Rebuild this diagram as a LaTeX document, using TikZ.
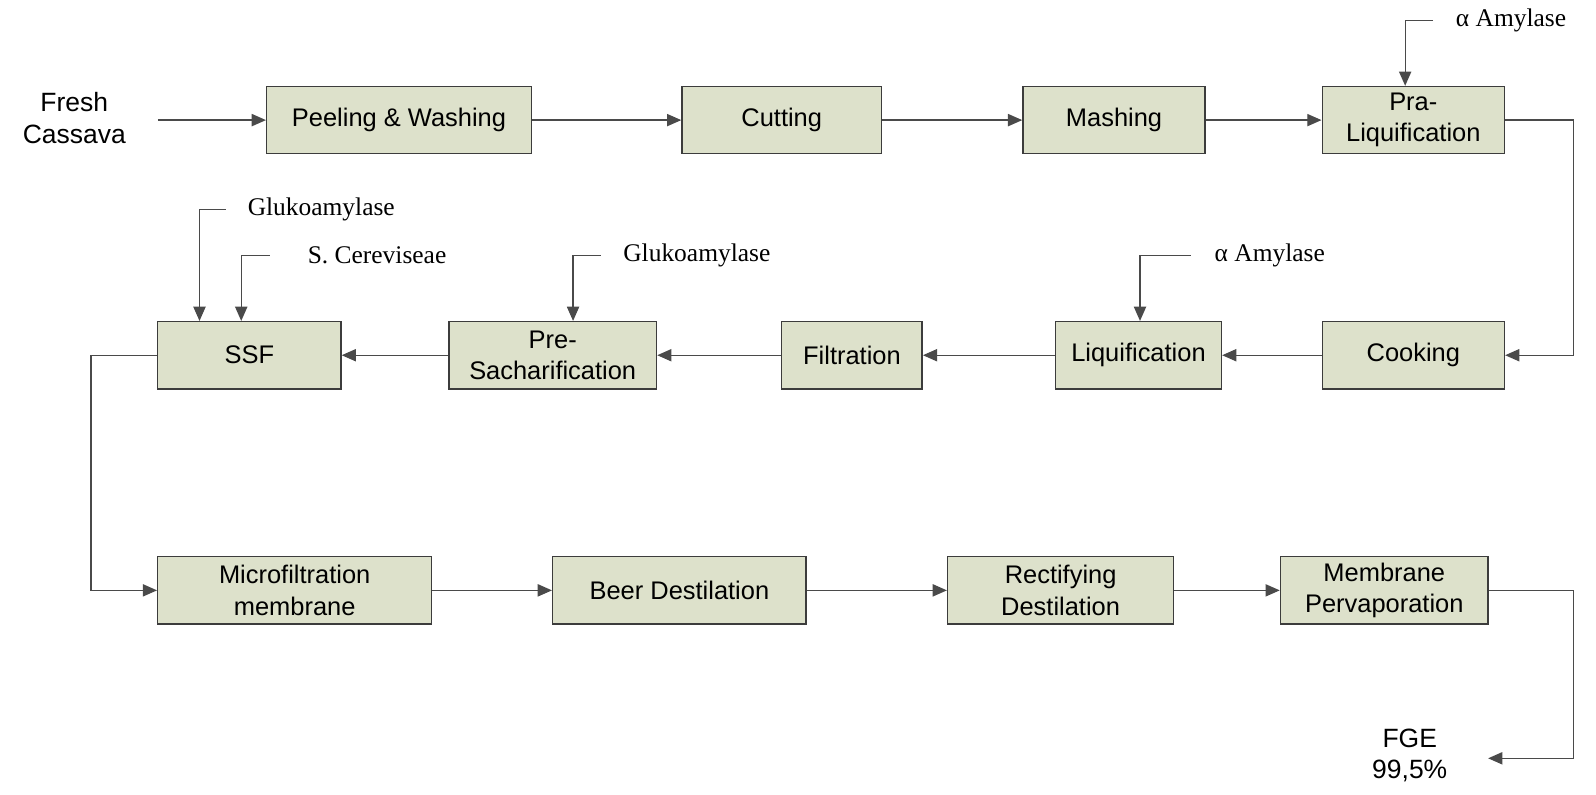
\documentclass[tikz,border=0pt]{standalone}
\usepackage{fontspec}
\setmainfont{Liberation Serif}
\setsansfont{Liberation Sans}
\usepackage{xcolor}
\usepackage{tikz}
\usetikzlibrary{arrows.meta}
\definecolor{boxfill}{HTML}{DDE1CB}
\definecolor{boxline}{HTML}{3C3C3C}
\definecolor{wire}{HTML}{4A4A4A}
\tikzset{
  proc/.style={draw=boxline, fill=boxfill, line width=0.7pt, minimum height=33pt,
    align=center, font=\sffamily\fontsize{12.5}{15.5}\selectfont, inner sep=2pt},
  flow/.style={draw=wire, line width=0.65pt, -{Triangle[length=7pt,width=6pt]}},
  feed/.style={draw=wire, line width=0.65pt, -{Triangle[length=7pt,width=6pt]}},
  enz/.style={anchor=west, inner sep=0pt, font=\rmfamily\fontsize{12.5}{15}\selectfont},
  term/.style={align=center, inner sep=0pt, font=\sffamily\fontsize{13}{15.5}\selectfont},
}

\begin{document}
\begin{tikzpicture}[x=0.5pt,y=-0.5pt]
  \useasboundingbox (0,0) rectangle (1568,781);
  % row 1
  \node[term] (fresh) at (73,116) {Fresh\\Cassava};
  \coordinate (feedin) at (155,118);
  \node[proc, minimum width=130pt] (peel) at (392,118) {Peeling \& Washing};
  \node[proc, minimum width=98pt] (cut) at (768,118) {Cutting};
  \node[proc, minimum width=89.5pt] (mash) at (1094.5,118) {Mashing};
  \node[proc, minimum width=89.5pt] (praliq) at (1388.5,118) {Pra-\\Liquification};
  % row 2
  \node[proc, minimum width=89.5pt] (cook) at (1388.5,349) {Cooking};
  \node[proc, minimum width=81.5pt] (liq) at (1118.5,349) {Liquification};
  \node[proc, minimum width=69pt] (filt) at (837,349) {Filtration};
  \node[proc, minimum width=102pt] (presac) at (543,349) {Pre-\\Sacharification};
  \node[proc, minimum width=90pt] (ssf) at (245,349) {SSF};
  % row 3
  \node[proc, minimum width=134.5pt] (micro) at (289.5,580) {Microfiltration\\membrane};
  \node[proc, minimum width=124.5pt] (beer) at (667.5,580) {Beer Destilation};
  \node[proc, minimum width=111pt] (rect) at (1042,580) {Rectifying\\Destilation};
  \node[proc, minimum width=102pt] (perv) at (1360,580) {Membrane\\Pervaporation};
  \node[term] (fge) at (1385,742) {FGE\\99,5\%};
  \coordinate (fgein) at (1462,745);
  % added enzymes and yeast
  \node[enz] (amy1) at (1430,20) {α Amylase};
  \node[enz] (amy2) at (1193,251) {α Amylase};
  \node[enz] (gluko1) at (612,251) {Glukoamylase};
  \node[enz] (gluko2) at (243,206) {Glukoamylase};
  \node[enz] (yeast) at (302,251) {S. Cereviseae};

  \draw[flow] (feedin) -- (peel);
  \draw[flow] (peel) -- (cut);
  \draw[flow] (cut) -- (mash);
  \draw[flow] (mash) -- (praliq);
  \draw[flow] (praliq.east) -- ++(67,0) |- (cook.east);
  \draw[flow] (cook) -- (liq);
  \draw[flow] (liq) -- (filt);
  \draw[flow] (filt) -- (presac);
  \draw[flow] (presac) -- (ssf);
  \draw[flow] (ssf.west) -- ++(-65,0) |- (micro.west);
  \draw[flow] (micro) -- (beer);
  \draw[flow] (beer) -- (rect);
  \draw[flow] (rect) -- (perv);
  \draw[flow] (perv.east) -- ++(83,0) |- (fgein);

  \draw[feed] (amy1.west) ++(-22,0) -| ([xshift=-4pt]praliq.north);
  \draw[feed] (amy2.west) ++(-23,0) -| ([xshift=0.75pt]liq.north);
  \draw[feed] (gluko1.west) ++(-22,0) -| ([xshift=10pt]presac.north);
  \draw[feed] (gluko2.west) ++(-21,0) -| ([xshift=-24.5pt]ssf.north);
  \draw[feed] (yeast.west) ++(-37,0) -| ([xshift=-4pt]ssf.north);
\end{tikzpicture}
\end{document}
